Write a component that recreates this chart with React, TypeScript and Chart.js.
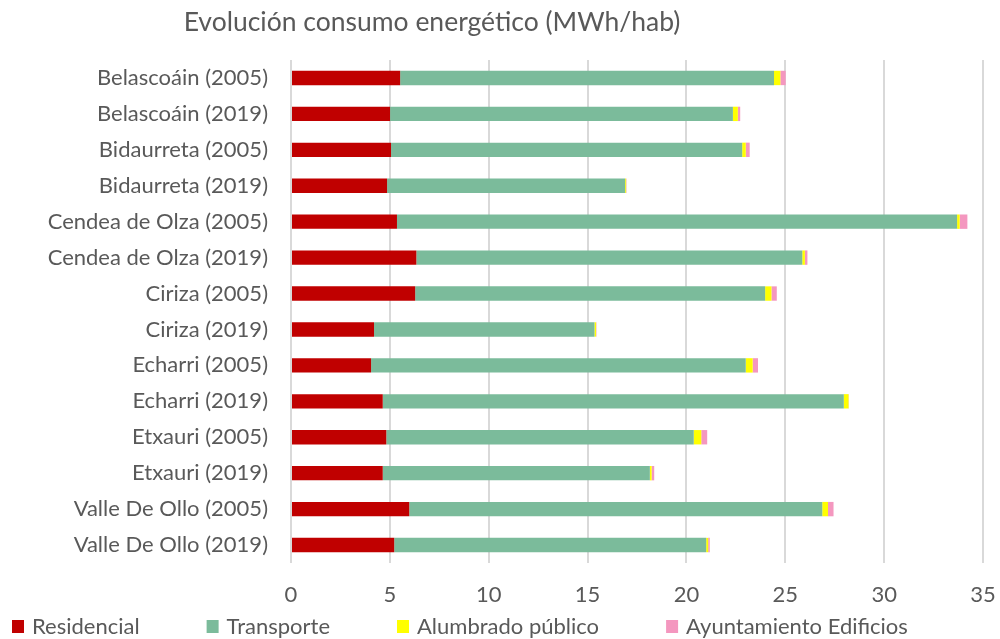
import React, { useEffect, useRef } from "react";
import { Chart, registerables } from "chart.js";

Chart.register(...registerables);

const TITLE = "Evolución consumo energético (MWh/hab)";

const categories = [
  "Belascoáin (2005)",
  "Belascoáin (2019)",
  "Bidaurreta (2005)",
  "Bidaurreta (2019)",
  "Cendea de Olza (2005)",
  "Cendea de Olza (2019)",
  "Ciriza (2005)",
  "Ciriza (2019)",
  "Echarri (2005)",
  "Echarri (2019)",
  "Etxauri (2005)",
  "Etxauri (2019)",
  "Valle De Ollo (2005)",
  "Valle De Ollo (2019)",
];

const residencial = [5.52, 5.01, 5.06, 4.86, 5.36, 6.34, 6.28, 4.2, 4.05, 4.64, 4.82, 4.64, 5.98, 5.22];
const transporte = [18.91, 17.34, 17.76, 12.04, 28.33, 19.52, 17.7, 11.15, 18.95, 23.32, 15.55, 13.51, 20.89, 15.78];
const alumbrado = [0.32, 0.25, 0.18, 0.05, 0.13, 0.13, 0.32, 0.08, 0.35, 0.24, 0.38, 0.09, 0.29, 0.1];
const ayuntamiento = [0.27, 0.12, 0.2, 0.02, 0.39, 0.13, 0.27, 0.02, 0.27, 0.02, 0.3, 0.13, 0.28, 0.08];

const seriesNames = ["Residencial", "Transporte", "Alumbrado público", "Ayuntamiento Edificios"];
const seriesColors = ["#C00000", "#7BBB9B", "#FFFF00", "#F497BF"];

const xMin = 0;
const xMax = 35;
const xStep = 5;

const FONT = "Lato, 'Open Sans', sans-serif";
const TEXT = "#595959";

export default function App() {
  const ref = useRef<HTMLCanvasElement>(null);

  useEffect(() => {
    if (!ref.current) return;

    const decor = {
      id: "decor",
      afterDraw(chart: any) {
        const ctx = chart.ctx as CanvasRenderingContext2D;
        ctx.save();
        ctx.fillStyle = TEXT;
        ctx.font = `26.5px ${FONT}`;
        ctx.textAlign = "center";
        ctx.textBaseline = "middle";
        ctx.fillText(TITLE, 432, 22);

        ctx.font = `22px ${FONT}`;
        ctx.textAlign = "left";
        let x = 12;
        chart.data.datasets.forEach((ds: any) => {
          ctx.fillStyle = ds.backgroundColor;
          ctx.fillRect(x, 620, 12, 13);
          ctx.fillStyle = TEXT;
          ctx.fillText(ds.label, x + 20, 627);
          x += 20 + ctx.measureText(ds.label).width + 67;
        });
        ctx.restore();
      },
    };

    const values = [residencial, transporte, alumbrado, ayuntamiento];

    const chart = new Chart(ref.current, {
      type: "bar",
      data: {
        labels: categories,
        datasets: seriesNames.map((name, i) => ({
          label: name,
          data: values[i],
          backgroundColor: seriesColors[i],
          borderWidth: 0,
          barPercentage: 1,
          categoryPercentage: 0.4,
        })),
      },
      options: {
        indexAxis: "y",
        animation: false,
        responsive: false,
        maintainAspectRatio: false,
        layout: { padding: { left: 0, right: 0, top: 60, bottom: 0 } },
        plugins: {
          legend: { display: false },
          title: { display: false },
          tooltip: { enabled: false },
        },
        scales: {
          x: {
            stacked: true,
            min: xMin,
            max: xMax,
            ticks: {
              stepSize: xStep,
              color: TEXT,
              font: { family: FONT, size: 22 },
              padding: 19,
            },
            grid: { color: "#D9D9D9", lineWidth: 2, drawTicks: false },
            border: { display: false },
            afterFit(scale: any) {
              scale.height = 76;
              scale.paddingRight = 17;
            },
          },
          y: {
            stacked: true,
            ticks: {
              color: TEXT,
              font: { family: FONT, size: 22 },
              padding: 23,
              autoSkip: false,
            },
            grid: { display: false, drawTicks: false },
            border: { display: false },
            afterFit(scale: any) {
              scale.width = 291;
            },
          },
        },
      },
      plugins: [decor],
    });

    return () => chart.destroy();
  }, []);

  return (
    <div style={{ position: "absolute", left: 0, top: 0, width: 1000, height: 639, background: "#fff" }}>
      <canvas ref={ref} width={1000} height={639} style={{ display: "block" }} />
    </div>
  );
}
